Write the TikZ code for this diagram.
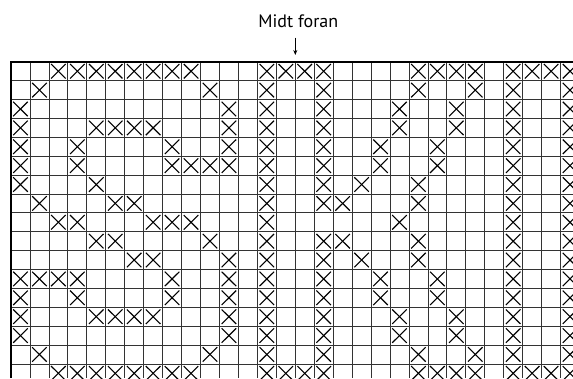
\documentclass[tikz,border=0pt]{standalone}
\usepackage{fontspec}
\setmainfont{PT Sans}
\usetikzlibrary{arrows.meta}
\begin{document}
\begin{tikzpicture}[x=1pt,y=-1pt,
  gridline/.style={line width=0.75pt, draw=black!80},
  border/.style={line width=1.7pt, draw=black},
  cross/.style={line width=1.1pt, draw=black},
  title/.style={font=\fontsize{18}{20}\selectfont, inner sep=0pt, anchor=base},
  pointer/.style={line width=0.8pt, -{Stealth[length=5pt,width=4pt]}}
]
\useasboundingbox (0,0) rectangle (573,378);
\clip (0,0) rectangle (573,378);
\def\cw{18.95}
\def\ch{18.88}
\def\xo{11}
\def\yo{61.8}
% grid lines
\foreach \k in {1,...,30} \draw[gridline] ({\xo+\k*\cw},\yo) -- ({\xo+\k*\cw},378);
\foreach \k in {1,...,16} \draw[gridline] (\xo,{\yo+\k*\ch}) -- (573,{\yo+\k*\ch});
% crosses
\foreach \r/\cols in {
  1/{3,4,5,6,7,8,9,10,14,15,16,17,22,23,24,25,27,28,29,30},
  2/{2,11,14,17,22,25,27,30},
  3/{1,12,14,17,21,24,27,30},
  4/{1,5,6,7,8,12,14,17,21,24,27,30},
  5/{1,4,9,12,14,17,20,23,27,30},
  6/{1,4,9,10,11,12,14,17,20,23,27,30},
  7/{1,5,14,17,19,22,27,30},
  8/{2,6,7,14,17,18,22,27,30},
  9/{3,4,8,9,10,14,21,27,30},
  10/{5,6,11,14,17,18,22,27,30},
  11/{7,8,12,14,17,19,22,27,30},
  12/{1,2,3,4,9,12,14,17,20,23,27,30},
  13/{1,4,9,12,14,17,20,23,27,30},
  14/{1,5,6,7,8,12,14,17,21,24,27,30},
  15/{1,12,14,17,21,24,27,30},
  16/{2,11,14,17,22,25,27,30},
  17/{3,4,5,6,7,8,9,10,14,15,16,17,22,23,24,25,27,28,29,30}} {
  \foreach \c in \cols {
    \draw[cross] ({\xo+(\c-1)*\cw+2.2},{\yo+(\r-1)*\ch+2.2}) -- ++({\cw-4.4},{\ch-4.4});
    \draw[cross] ({\xo+\c*\cw-2.2},{\yo+(\r-1)*\ch+2.2}) -- ++({-\cw+4.4},{\ch-4.4});
  }
}
% border
\draw[border] (\xo,378) -- (\xo,\yo) -- (573,\yo);
% label and pointer
\node[title] (lbl) at (298.3,27.3) {Midt foran};
\coordinate (atop) at (295.3,37.5);
\coordinate (abot) at (295.3,55);
\draw[pointer] (atop) -- (abot);
\end{tikzpicture}
\end{document}
